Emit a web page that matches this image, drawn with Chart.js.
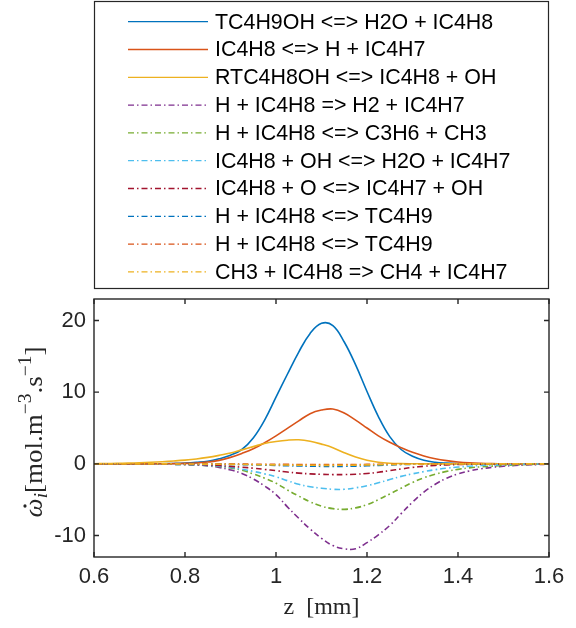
<!DOCTYPE html>
<html>
<head>
<meta charset="utf-8">
<script src="https://cdn.jsdelivr.net/npm/chart.js@4/dist/chart.umd.min.js"></script>
<style>
  html, body { margin: 0; padding: 0; background: #fff; }
</style>
</head>
<body>
<canvas id="grafico" width="576" height="628"></canvas>
<script>
// Posição z [mm] dos pontos lidos
const zPos = [0.6, 0.625, 0.65, 0.675, 0.7, 0.725, 0.75, 0.775, 0.8, 0.825, 0.85, 0.875, 0.9, 0.925, 0.95, 0.975,
  1.0, 1.025, 1.05, 1.075, 1.1, 1.125, 1.15, 1.175, 1.2, 1.225, 1.25, 1.275, 1.3, 1.325, 1.35, 1.375,
  1.4, 1.425, 1.45, 1.475, 1.5, 1.525, 1.55, 1.575, 1.6];

// Nomes das reações (legenda)
const reacoes = [
  "TC4H9OH <=> H2O + IC4H8",
  "IC4H8 <=> H + IC4H7",
  "RTC4H8OH <=> IC4H8 + OH",
  "H + IC4H8 => H2 + IC4H7",
  "H + IC4H8 <=> C3H6 + CH3",
  "IC4H8 + OH <=> H2O + IC4H7",
  "IC4H8 + O <=> IC4H7 + OH",
  "H + IC4H8 <=> TC4H9",
  "H + IC4H8 <=> TC4H9",
  "CH3 + IC4H8 => CH4 + IC4H7"
];

// Taxas de cada reação [mol.m-3.s-1]
const taxaTC4H9OH = [0, 0, 0, 0, 0, 0.01, 0.02, 0.05, 0.1, 0.2, 0.35, 0.7, 1.2, 2.0, 3.6, 6.1,
  9.3, 12.5, 15.6, 18.2, 19.6, 19.3, 17.0, 13.8, 10.1, 6.6, 3.8, 2.0, 1.05, 0.5, 0.22, 0.1,
  0.04, 0.02, 0.01, 0, 0, 0, 0, 0, 0];
const taxaIC4H8 = [0, 0, 0, 0, 0, 0, 0.01, 0.03, 0.06, 0.11, 0.25, 0.48, 0.9, 1.45, 2.1, 2.95,
  3.9, 4.95, 6.0, 7.0, 7.5, 7.65, 7.1, 6.1, 5.0, 3.9, 3.0, 2.25, 1.6, 1.1, 0.72, 0.45,
  0.26, 0.14, 0.07, 0.03, 0.01, 0, 0, 0, 0];
const taxaRTC4H8OH = [0.02, 0.04, 0.06, 0.1, 0.15, 0.22, 0.3, 0.4, 0.52, 0.68, 0.9, 1.18, 1.5, 1.95, 2.4, 2.85,
  3.12, 3.3, 3.35, 3.15, 2.75, 2.25, 1.55, 0.95, 0.5, 0.22, 0.08, 0.03, 0.01, 0, 0, 0,
  0, 0, 0, 0, 0, 0, 0, 0, 0];
const taxaH_H2 = [0, 0, -0.01, -0.01, -0.02, -0.03, -0.05, -0.07, -0.1, -0.16, -0.28, -0.5, -0.85, -1.35, -2.1, -3.1,
  -4.3, -6.0, -7.6, -9.1, -10.4, -11.4, -11.85, -11.85, -11.0, -9.9, -8.6, -6.95, -5.35, -3.95, -2.85, -2.0,
  -1.4, -1.0, -0.7, -0.48, -0.33, -0.23, -0.16, -0.1, -0.05];
const taxaH_C3H6 = [0, 0, -0.01, -0.01, -0.02, -0.03, -0.05, -0.07, -0.1, -0.15, -0.22, -0.35, -0.58, -0.9, -1.4, -2.0,
  -2.7, -3.65, -4.5, -5.3, -5.9, -6.25, -6.35, -6.15, -5.7, -5.0, -4.2, -3.4, -2.6, -1.95, -1.45, -1.05,
  -0.77, -0.56, -0.42, -0.32, -0.22, -0.15, -0.1, -0.06, -0.03];
const taxaOH_H2O = [0, 0, -0.01, -0.01, -0.02, -0.03, -0.05, -0.07, -0.1, -0.15, -0.22, -0.32, -0.5, -0.75, -1.05, -1.4,
  -1.8, -2.35, -2.85, -3.2, -3.4, -3.55, -3.55, -3.35, -3.05, -2.65, -2.2, -1.75, -1.4, -1.08, -0.82, -0.6,
  -0.45, -0.33, -0.24, -0.17, -0.12, -0.08, -0.05, -0.03, -0.02];
const taxaO_OH = [0, 0, 0, -0.01, -0.01, -0.02, -0.03, -0.05, -0.07, -0.1, -0.15, -0.24, -0.35, -0.47, -0.6, -0.78,
  -0.95, -1.15, -1.3, -1.4, -1.47, -1.5, -1.5, -1.45, -1.35, -1.18, -0.95, -0.72, -0.5, -0.34, -0.22, -0.15,
  -0.1, -0.07, -0.05, -0.04, -0.03, -0.02, -0.02, -0.01, -0.01];
const taxaTC4H9a = [0, 0, 0, 0, 0, 0, -0.01, -0.01, -0.02, -0.03, -0.04, -0.06, -0.08, -0.11, -0.14, -0.18,
  -0.22, -0.26, -0.3, -0.33, -0.35, -0.36, -0.35, -0.32, -0.27, -0.21, -0.15, -0.1, -0.07, -0.04, -0.03, -0.02,
  -0.01, 0, 0, 0, 0, 0, 0, 0, 0];
const taxaTC4H9b = [0, 0, 0, 0, 0, 0, 0, 0, -0.01, -0.01, -0.02, -0.02, -0.03, -0.04, -0.05, -0.06,
  -0.07, -0.08, -0.09, -0.1, -0.1, -0.1, -0.1, -0.09, -0.08, -0.06, -0.05, -0.03, -0.02, -0.01, -0.01, 0,
  0, 0, 0, 0, 0, 0, 0, 0, 0];
const taxaCH3_CH4 = [0, 0, 0, 0, 0, -0.01, -0.01, -0.01, -0.02, -0.03, -0.04, -0.05, -0.07, -0.09, -0.11, -0.13,
  -0.15, -0.17, -0.19, -0.2, -0.21, -0.21, -0.2, -0.18, -0.15, -0.12, -0.09, -0.06, -0.04, -0.03, -0.02, -0.01,
  -0.01, 0, 0, 0, 0, 0, 0, 0, 0];

// Marcas dos eixos
const xTicks = [0.6, 0.8, 1, 1.2, 1.4, 1.6];
const yTicks = [-10, 0, 10, 20];

const series = [taxaTC4H9OH, taxaIC4H8, taxaRTC4H8OH, taxaH_H2, taxaH_C3H6, taxaOH_H2O, taxaO_OH,
  taxaTC4H9a, taxaTC4H9b, taxaCH3_CH4];

// Cores padrão do MATLAB
const cores = ["#0072BD", "#D95319", "#EDB120", "#7E2F8E", "#77AC30", "#4DBEEE", "#A2142F",
  "#0072BD", "#D95319", "#EDB120"];
const tracoPontoTraco = [6, 3, 1.5, 3];

const eixoCor = "#262626";
const fonteTexto = '"Liberation Sans", Arial, sans-serif';
const fonteSerif = '"Liberation Serif", "Times New Roman", serif';

// Monta os datasets a partir das listas
const datasets = series.map(function (s, i) {
  return {
    label: reacoes[i],
    data: zPos.map(function (z, k) { return { x: z, y: s[k] }; }),
    borderColor: cores[i],
    borderWidth: 1.6,
    borderDash: i < 3 ? [] : tracoPontoTraco,
    pointRadius: 0,
    tension: 0.4,
    fill: false,
    order: 10 - i
  };
});

// Legenda em caixa, no estilo do MATLAB
const legendaCaixa = {
  id: "legendaCaixa",
  afterDraw(chart) {
    const ctx = chart.ctx;
    ctx.save();
    ctx.strokeStyle = eixoCor;
    ctx.lineWidth = 1.2;
    ctx.strokeRect(94.5, 1.5, 454, 287);
    chart.data.datasets.forEach(function (ds, i) {
      const y = 21.7 + i * 27.8;
      ctx.strokeStyle = ds.borderColor;
      ctx.lineWidth = 1.3;
      ctx.setLineDash(ds.borderDash);
      ctx.beginPath();
      ctx.moveTo(128, y);
      ctx.lineTo(208, y);
      ctx.stroke();
      ctx.setLineDash([]);
      ctx.fillStyle = "#000";
      ctx.font = "21.4px " + fonteTexto;
      ctx.textBaseline = "middle";
      ctx.textAlign = "left";
      ctx.fillText(ds.label, 215, y + 1);
    });
    ctx.restore();
  }
};

// Moldura do gráfico com marcas para dentro
const molduraEixos = {
  id: "molduraEixos",
  afterDatasetsDraw(chart) {
    const ctx = chart.ctx;
    const a = chart.chartArea;
    const sx = chart.scales.x, sy = chart.scales.y;
    ctx.save();
    ctx.strokeStyle = eixoCor;
    ctx.lineWidth = 1.4;
    ctx.strokeRect(a.left, a.top, a.right - a.left, a.bottom - a.top);
    ctx.beginPath();
    xTicks.forEach(function (v) {
      const px = sx.getPixelForValue(v);
      ctx.moveTo(px, a.bottom); ctx.lineTo(px, a.bottom - 5);
      ctx.moveTo(px, a.top); ctx.lineTo(px, a.top + 5);
    });
    yTicks.forEach(function (v) {
      const py = sy.getPixelForValue(v);
      ctx.moveTo(a.left, py); ctx.lineTo(a.left + 5, py);
      ctx.moveTo(a.right, py); ctx.lineTo(a.right - 5, py);
    });
    ctx.stroke();
    ctx.restore();
  }
};

// Rótulo do eixo y com índice e expoentes
const rotuloY = {
  id: "rotuloY",
  afterDraw(chart) {
    const ctx = chart.ctx;
    const a = chart.chartArea;
    const grande = "25px " + fonteSerif;
    const pequeno = "18px " + fonteSerif;
    const partes = [
      { t: "ω", f: "italic " + grande, dy: 0 },
      { t: "i", f: "italic " + pequeno, dy: 5 },
      { t: "[mol.m", f: grande, dy: 0 },
      { t: "−3", f: pequeno, dy: -11 },
      { t: ".s", f: grande, dy: 0 },
      { t: "−1", f: pequeno, dy: -11 },
      { t: "]", f: grande, dy: 0 }
    ];
    ctx.save();
    let total = 0;
    partes.forEach(function (p) { ctx.font = p.f; p.w = ctx.measureText(p.t).width; total += p.w; });
    ctx.translate(42, (a.top + a.bottom) / 2 + 4);
    ctx.rotate(-Math.PI / 2);
    ctx.scale(1.08, 1);
    ctx.fillStyle = eixoCor;
    ctx.textBaseline = "alphabetic";
    let x = -total / 2;
    partes.forEach(function (p, i) {
      ctx.font = p.f;
      ctx.fillText(p.t, x, p.dy);
      if (i === 0) {
        // ponto sobre o omega
        ctx.beginPath();
        ctx.arc(x + p.w * 0.6, -17, 1.6, 0, Math.PI * 2);
        ctx.fill();
      }
      x += p.w;
    });
    ctx.restore();
  }
};

function formatarTick(v) {
  return String(Number(v.toFixed(2)));
}

new Chart(document.getElementById("grafico"), {
  type: "line",
  data: { datasets: datasets },
  options: {
    responsive: false,
    animation: false,
    devicePixelRatio: 1,
    layout: { padding: { top: 299, left: 0, right: 27, bottom: 0 } },
    plugins: { legend: { display: false }, tooltip: { enabled: false } },
    scales: {
      x: {
        type: "linear",
        min: 0.6,
        max: 1.6,
        afterBuildTicks: function (scale) { scale.ticks = xTicks.map(function (v) { return { value: v }; }); },
        afterFit: function (scale) { scale.height = 71; },
        grid: { display: false, drawTicks: false },
        border: { display: false },
        ticks: { color: eixoCor, font: { family: fonteTexto, size: 22 }, padding: 7, maxRotation: 0, callback: formatarTick },
        title: { display: true, text: "z  [mm]", color: eixoCor, font: { family: fonteSerif, size: 24 }, padding: { top: 0, bottom: 6 } }
      },
      y: {
        type: "linear",
        min: -13,
        max: 23,
        afterBuildTicks: function (scale) { scale.ticks = yTicks.map(function (v) { return { value: v }; }); },
        afterFit: function (scale) { scale.width = 94; },
        grid: { display: false, drawTicks: false },
        border: { display: false },
        ticks: { color: eixoCor, font: { family: fonteTexto, size: 22 }, padding: 8, callback: formatarTick }
      }
    }
  },
  plugins: [molduraEixos, legendaCaixa, rotuloY]
});
</script>
</body>
</html>
